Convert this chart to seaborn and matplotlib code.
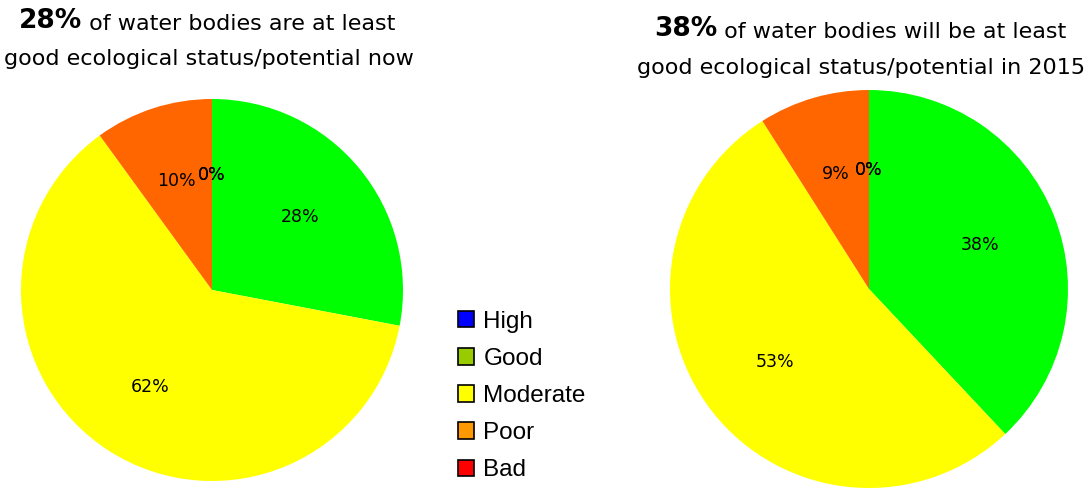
import matplotlib
matplotlib.use("Agg")
import matplotlib.pyplot as plt
from matplotlib.patches import Patch
import seaborn as sns

# ==========================================================
# DATA
# ==========================================================

classes = ["High", "Good", "Moderate", "Poor", "Bad"]
now_pct = [0, 28, 62, 10, 0]
future_pct = [0, 38, 53, 9, 0]

pie_colors = ["#0000FF", "#00FF00", "#FFFF00", "#FF6600", "#FF0000"]
legend_colors = ["#0000FF", "#99CC00", "#FFFF00", "#FF9900", "#FF0000"]

left_head = "28%"
left_line1 = " of water bodies are at least"
left_line2 = "good ecological status/potential now"
right_head = "38%"
right_line1 = " of water bodies will be at least"
right_line2 = "good ecological status/potential in 2015"

# ==========================================================
# FIGURE
# ==========================================================

sns.set_theme(style="white")
plt.rcParams["font.family"] = ["DejaVu Sans"]
plt.rcParams["text.color"] = "black"

fig = plt.figure(figsize=(10.85, 4.88), dpi=100)
fig.patch.set_facecolor("white")

ax1 = fig.add_axes([21 / 1085, 7 / 488, 382 / 1085, 382 / 488])
ax2 = fig.add_axes([670 / 1085, 0 / 488, 398 / 1085, 398 / 488])

# overlay axes for the titles
tax = fig.add_axes([0, 0, 1, 1])
tax.set_xlim(0, 1085)
tax.set_ylim(488, 0)
tax.axis("off")


def draw_pie(ax, values):
    wedges, texts, autotexts = ax.pie(
        values,
        colors=pie_colors,
        startangle=90,
        counterclock=False,
        autopct="%1.0f%%",
        pctdistance=0.6,
        textprops={"fontsize": 12.5, "color": "black"},
        wedgeprops={"linewidth": 0},
    )
    ax.set_xlim(-1, 1)
    ax.set_ylim(-1, 1)
    ax.set_aspect("equal")
    ax.axis("off")
    return autotexts


draw_pie(ax1, now_pct)
draw_pie(ax2, future_pct)

# ==========================================================
# TITLES
# ==========================================================

t1 = tax.text(82, 28, left_head, fontsize=19, fontweight="bold",
              ha="right", va="baseline", color="black")
tax.annotate(left_line1, xy=(1, 0), xycoords=t1, fontsize=16, va="bottom",
             color="black")
tax.text(209, 65, left_line2, fontsize=16, ha="center", va="baseline", color="black")

t2 = tax.text(717, 36, right_head, fontsize=19, fontweight="bold",
              ha="right", va="baseline", color="black")
tax.annotate(right_line1, xy=(1, 0), xycoords=t2, fontsize=16, va="bottom",
             color="black")
tax.text(861, 74, right_line2, fontsize=16, ha="center", va="baseline", color="black")

# ==========================================================
# LEGEND
# ==========================================================

handles = [Patch(facecolor=c, edgecolor="black", linewidth=1.2) for c in legend_colors]
leg = fig.legend(
    handles, classes,
    loc="upper left",
    bbox_to_anchor=(436 / 1085, 1 - 289 / 488),
    frameon=False,
    prop={"family": "Liberation Sans", "size": 17.5},
    handlelength=0.65,
    handleheight=0.65,
    handletextpad=0.4,
    labelspacing=0.62,
)
for txt in leg.get_texts():
    txt.set_color("black")

fig.savefig("out.png", dpi=100, facecolor="white")
